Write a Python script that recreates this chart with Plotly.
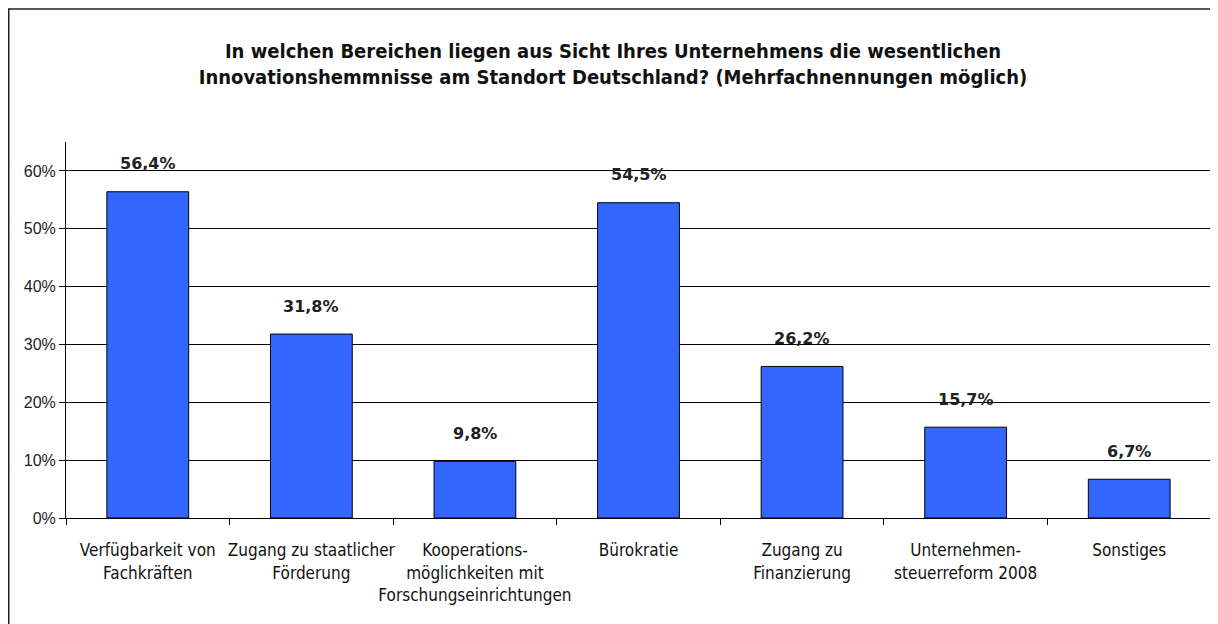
import plotly.graph_objects as go

categories = [
    "Verfügbarkeit von<br>Fachkräften",
    "Zugang zu staatlicher<br>Förderung",
    "Kooperations-<br>möglichkeiten mit<br>Forschungseinrichtungen",
    "Bürokratie",
    "Zugang zu<br>Finanzierung",
    "Unternehmen-<br>steuerreform 2008",
    "Sonstiges",
]
values = [56.4, 31.8, 9.8, 54.5, 26.2, 15.7, 6.7]
labels = ["56,4%", "31,8%", "9,8%", "54,5%", "26,2%", "15,7%", "6,7%"]
y_ticks = [0, 10, 20, 30, 40, 50, 60]
y_ticktext = ["0%", "10%", "20%", "30%", "40%", "50%", "60%"]

title = ("In welchen Bereichen liegen aus Sicht Ihres Unternehmens die wesentlichen<br>"
         "Innovationshemmnisse am Standort Deutschland? (Mehrfachnennungen möglich)")

narrow = "DejaVu Sans Condensed, DejaVu Sans, sans-serif"

fig = go.Figure()
fig.add_trace(go.Bar(
    x=categories, y=values, width=0.5,
    marker=dict(color="#3366FF", line=dict(color="#000000", width=1)),
    hoverinfo="skip",
))

# value labels above the bars
for c, v, t in zip(categories, values, labels):
    fig.add_annotation(x=c, y=v, text="<b>" + t + "</b>", showarrow=False,
                       yanchor="middle", yshift=28,
                       font=dict(family="DejaVu Sans", size=16, color="#222"))

# page body has an 8px margin, so the figure is a bit smaller than the window
fig.update_layout(
    width=1210, height=616,
    margin=dict(l=58, r=7, t=134, b=106),
    paper_bgcolor="white", plot_bgcolor="white",
    showlegend=False,
    title=dict(text="<b>" + title + "</b>", x=0.5, xanchor="center", y=0.919, yanchor="middle",
               font=dict(family=narrow, size=20, color="#111")),
)
fig.update_xaxes(
    showline=True, linecolor="#000", linewidth=1,
    ticks="outside", ticklen=6, tickcolor="#000", tickson="boundaries",
    tickfont=dict(family=narrow, size=17, color="#111"),
    ticklabelstandoff=17, tickangle=0,
    showgrid=False,
)
fig.update_yaxes(
    range=[0, 65], tickvals=y_ticks, ticktext=y_ticktext,
    showline=True, linecolor="#000", linewidth=1,
    ticks="outside", ticklen=6, tickcolor="#000",
    showgrid=True, gridcolor="#000", gridwidth=1, zeroline=False,
    tickfont=dict(family="Liberation Sans, Arial, sans-serif", size=16, color="#222"),
)
# outer frame of the chart (right and bottom edge fall outside the picture)
fig.add_shape(type="rect", xref="paper", yref="paper",
              x0=-0.05, x1=1.1, y0=-0.4, y1=1.3537,
              line=dict(color="#222", width=1.5))

fig.write_html("out.html")
